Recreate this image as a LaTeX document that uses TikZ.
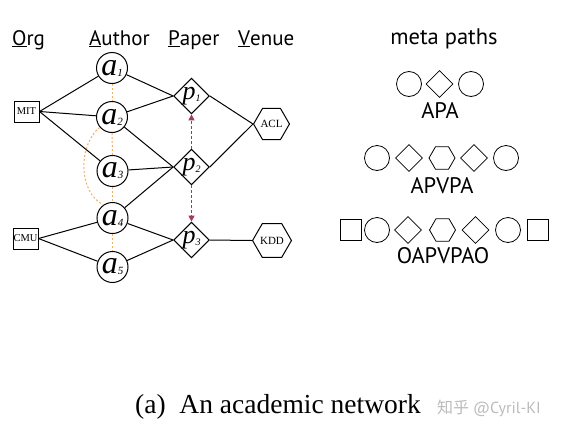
\documentclass[tikz,border=0pt]{standalone}
\usepackage{fontspec}
\setmainfont{Liberation Serif}
\newfontfamily\hdr{PT Sans}
\newfontfamily\cjk{Noto Sans CJK SC}
\usetikzlibrary{shapes.geometric,arrows.meta}
\definecolor{orangeD}{HTML}{EEAE68}
\definecolor{redD}{HTML}{A8385A}
\definecolor{wmark}{HTML}{BBBBBB}
\newcommand{\alab}[1]{{\fontsize{32}{32}\selectfont\itshape a}\raisebox{-1pt}{\fontsize{11}{11}\selectfont\itshape #1}}
\newcommand{\plab}[1]{{\fontsize{26}{26}\selectfont\itshape p}\raisebox{-2pt}{\fontsize{10}{10}\selectfont\itshape #1}}
\begin{document}
\begin{tikzpicture}[x=1pt,y=-1pt,
  auth/.style={circle,draw,line width=1pt,minimum size=31pt,inner sep=0pt},
  pap/.style={diamond,draw,line width=1pt,minimum width=32pt,minimum height=30pt,inner sep=0pt},
  org/.style={rectangle,draw,line width=1pt,minimum width=25pt,minimum height=21pt,inner sep=0pt,font=\fontsize{10.5}{11}\selectfont},
  ven/.style={regular polygon,regular polygon sides=6,draw,line width=1pt,minimum size=32pt,inner sep=0pt,font=\fontsize{11}{12}\selectfont},
  mcirc/.style={circle,draw,line width=0.8pt,minimum size=25pt,inner sep=0pt},
  mdia/.style={diamond,draw,line width=0.8pt,minimum size=27pt,inner sep=0pt},
  mhex/.style={regular polygon,regular polygon sides=6,draw,line width=0.8pt,minimum size=26pt,inner sep=0pt},
  msq/.style={rectangle,draw,line width=0.8pt,minimum size=21pt,inner sep=0pt},
  edge/.style={line width=1pt},
  odash/.style={color=orangeD,line width=1pt,dash pattern=on 2pt off 2pt},
  rdash/.style={color=redD,line width=1.1pt,dash pattern=on 3pt off 2pt,-{Triangle[length=6pt,width=6pt]}},
  head/.style={anchor=base west,inner sep=0pt,font=\hdr\fontsize{21}{22}\selectfont},
  mlab/.style={anchor=base,inner sep=0pt,font=\hdr\fontsize{22.5}{24}\selectfont}
]
\useasboundingbox (0,0) rectangle (561,434);
\fill[white] (0,0) rectangle (561,434);

% headers
\node[head] (hOrg) at (12,45) {\underline{O}rg};
\node[head] (hAut) at (89,45) {\underline{A}uthor};
\node[head] (hPap) at (168,45) {\underline{P}aper};
\node[head] (hVen) at (238,45) {\underline{V}enue};

% nodes
\node[org] (mit) at (26.5,111.5) {MIT};
\node[org] (cmu) at (25.5,238.5) {CMU};
\node[auth] (a1) at (112,68) {\alab{1}};
\node[auth] (a2) at (112,117) {\alab{2}};
\node[auth] (a3) at (112.5,171) {\alab{3}};
\node[auth] (a4) at (112.5,218) {\alab{4}};
\node[auth] (a5) at (112.5,267) {\alab{5}};
\node[pap] (p1) at (191.5,96) {\plab{1}};
\node[pap] (p2) at (191.5,167) {\plab{2}};
\node[pap] (p3) at (191.5,240) {\plab{3}};
\node[ven] (acl) at (271.5,124) {ACL};
\node[ven] (kdd) at (272,240.5) {KDD};

% edges
\draw[edge] (mit.east) -- (a1);
\draw[edge] (mit.east) -- (a2);
\draw[edge] (mit.east) -- (a3);
\draw[edge] (cmu.east) -- (a4);
\draw[edge] (cmu.east) -- (a5);
\draw[edge] (a1) -- (p1.west);
\draw[edge] (a2) -- (p1.west);
\draw[edge] (a2) -- (p2.west);
\draw[edge] (a3) -- (p2.west);
\draw[edge] (a4) -- (p2.west);
\draw[edge] (a4) -- (p3.west);
\draw[edge] (a5) -- (p3.west);
\draw[edge] (p1.east) -- (acl.corner 3);
\draw[edge] (p2.east) -- (acl.corner 3);
\draw[edge] (p3.east) -- (kdd.corner 3);

% orange dashed
\draw[odash] (a1.south) -- (a2.north);
\draw[odash] (a2.south) -- (a3.north);
\draw[odash] (a3.south) -- (a4.north);
\draw[odash] (a4.south) -- (a5.north);
\draw[odash] (a2.220) .. controls (78,145) and (78,192) .. (a4.125);

% red dashed arrows
\draw[rdash] (p2.north) -- (p1.south);
\draw[rdash] (p2.south) -- (p3.north);

% meta paths
\node[mlab] (mtitle) at (444,44) {meta paths};
\node[mcirc] (r1a) at (409,84) {};
\node[mdia]  (r1b) at (439.5,84) {};
\node[mcirc] (r1c) at (471,84) {};
\node[mlab] (l1) at (440,118) {APA};

\node[mcirc] (r2a) at (377,158) {};
\node[mdia]  (r2b) at (409,158) {};
\node[mhex]  (r2c) at (442,158) {};
\node[mdia]  (r2d) at (474,158) {};
\node[mcirc] (r2e) at (506,158) {};
\node[mlab] (l2) at (442,193) {APVPA};

\node[msq]   (r3a) at (350.5,230) {};
\node[mcirc] (r3b) at (377,230) {};
\node[mdia]  (r3c) at (408,230) {};
\node[mhex]  (r3d) at (442.5,230) {};
\node[mdia]  (r3e) at (475.5,230) {};
\node[mcirc] (r3f) at (508,230) {};
\node[msq]   (r3g) at (537.5,230) {};
\node[mlab] (l3) at (443,263) {OAPVPAO};

% caption
\node[anchor=base west,inner sep=0pt,font=\fontsize{27.5}{30}\selectfont] (cap) at (135,413) {(a)\enspace An academic network};
\node[anchor=base west,inner sep=0pt,text=wmark,font=\fontsize{16}{17}\selectfont] (wm) at (437,413) {{\cjk 知乎} {\hdr @Cyril-KI}};
\end{tikzpicture}
\end{document}
